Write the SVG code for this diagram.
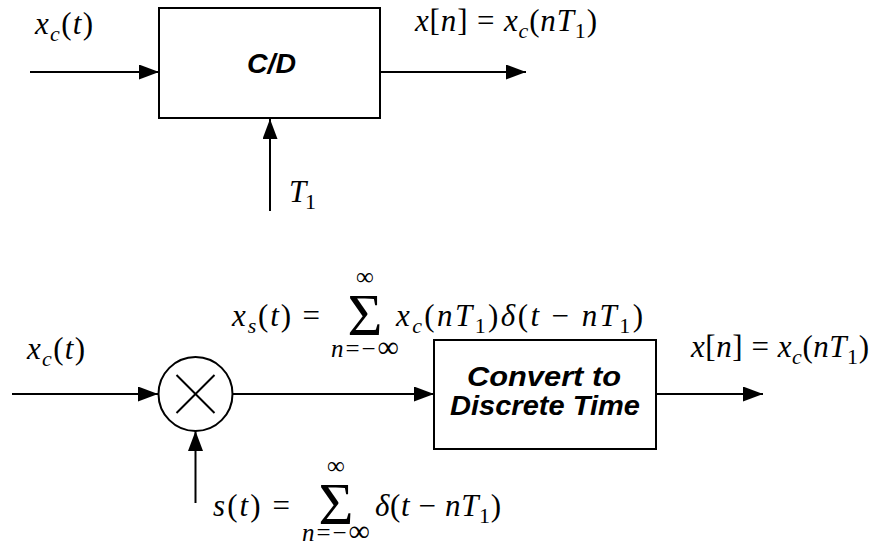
<svg xmlns="http://www.w3.org/2000/svg" width="876" height="546" viewBox="0 0 876 546">
<style>
.bg{fill:#fff}
.box{fill:#fff;stroke:#000;stroke-width:2}
.ln{fill:none;stroke:#000;stroke-width:2}
.conn{fill:none;stroke:#000;stroke-width:2;marker-end:url(#ah)}
.bt{font-family:"Liberation Sans",Arial,sans-serif;font-weight:bold;font-style:italic;font-size:27px;fill:#000}
.m{font-family:"Liberation Serif","Times New Roman",serif;font-size:31px;font-style:italic;fill:#000}
.u{font-style:normal}
.sb{font-size:22px}
.sig{font-family:"Liberation Serif","Times New Roman",serif;font-size:60px;fill:#000}
.lim{font-family:"Liberation Serif","Times New Roman",serif;font-size:25px;fill:#000}
</style>
<defs>
<marker id="ah" markerUnits="userSpaceOnUse" markerWidth="20" markerHeight="15" refX="20" refY="7.5" orient="auto">
<path d="M0,0 L20,7.5 L0,15 z" fill="#000"/>
</marker>
</defs>
<rect class="bg" x="0" y="0" width="876" height="546"/>

<g id="connectors">
<line class="conn" x1="30" y1="72" x2="159" y2="72"/>
<line class="conn" x1="380" y1="72" x2="526" y2="72"/>
<line class="conn" x1="270" y1="211" x2="270" y2="119"/>
<line class="conn" x1="12" y1="394" x2="158" y2="394"/>
<line class="conn" x1="233" y1="394" x2="434" y2="394"/>
<line class="conn" x1="195.5" y1="503" x2="195.5" y2="431"/>
<line class="conn" x1="656" y1="394" x2="763" y2="394"/>
</g>

<g id="cd">
<rect class="box" x="159" y="8" width="221" height="110"/>
<text class="bt" x="247" y="73" font-size="25" textLength="49" lengthAdjust="spacingAndGlyphs">C/D</text>
</g>

<g id="mult">
<circle class="box" cx="195.5" cy="394" r="37"/>
<line class="ln" x1="176.5" y1="375" x2="214.5" y2="413"/>
<line class="ln" x1="214.5" y1="375" x2="176.5" y2="413"/>
</g>

<g id="convert">
<rect class="box" x="434" y="340" width="222" height="109"/>
<text class="bt" x="467" y="386" textLength="154" lengthAdjust="spacingAndGlyphs">Convert to</text>
<text class="bt" x="450" y="415" textLength="190" lengthAdjust="spacingAndGlyphs">Discrete Time</text>
</g>

<g id="labels">
<text class="m" x="35" y="34" textLength="58" lengthAdjust="spacing">x<tspan class="sb" dy="7">c</tspan><tspan class="u" dy="-7">(</tspan>t<tspan class="u">)</tspan></text>
<text class="m" x="415" y="31" textLength="182" lengthAdjust="spacing">x<tspan class="u">[</tspan>n<tspan class="u">] = </tspan>x<tspan class="sb" dy="7">c</tspan><tspan class="u" dy="-7">(</tspan>nT<tspan class="sb u" dy="7">1</tspan><tspan class="u" dy="-7">)</tspan></text>
<text class="m" x="289" y="202" textLength="27" lengthAdjust="spacing">T<tspan class="sb u" dy="7">1</tspan></text>

<text class="m" x="27" y="359" textLength="58" lengthAdjust="spacing">x<tspan class="sb" dy="7">c</tspan><tspan class="u" dy="-7">(</tspan>t<tspan class="u">)</tspan></text>

<text class="m" x="232" y="326" textLength="88" lengthAdjust="spacing">x<tspan class="sb" dy="7">s</tspan><tspan class="u" dy="-7">(</tspan>t<tspan class="u">) =</tspan></text>
<text class="sig" x="365" y="335" text-anchor="middle">Σ</text>
<text class="lim" x="365" y="285" text-anchor="middle" font-size="28">∞</text>
<text class="lim" x="331" y="357" textLength="68" lengthAdjust="spacing"><tspan font-style="italic">n</tspan>=−<tspan font-size="30">∞</tspan></text>
<text class="m" x="396" y="326" textLength="247" lengthAdjust="spacing">x<tspan class="sb" dy="7">c</tspan><tspan class="u" dy="-7">(</tspan>nT<tspan class="sb u" dy="7">1</tspan><tspan class="u" dy="-7">)</tspan>δ<tspan class="u">(</tspan>t <tspan class="u">−</tspan> nT<tspan class="sb u" dy="7">1</tspan><tspan class="u" dy="-7">)</tspan></text>

<text class="m" x="213" y="516" textLength="77" lengthAdjust="spacing">s<tspan class="u">(</tspan>t<tspan class="u">) =</tspan></text>
<text class="sig" x="336" y="524" text-anchor="middle">Σ</text>
<text class="lim" x="336" y="474" text-anchor="middle" font-size="28">∞</text>
<text class="lim" x="302" y="541" textLength="68" lengthAdjust="spacing"><tspan font-style="italic">n</tspan>=−<tspan font-size="30">∞</tspan></text>
<text class="m" x="375" y="516" textLength="126" lengthAdjust="spacing">δ<tspan class="u">(</tspan>t <tspan class="u">−</tspan> nT<tspan class="sb u" dy="7">1</tspan><tspan class="u" dy="-7">)</tspan></text>

<text class="m" x="691" y="357" textLength="178" lengthAdjust="spacing">x<tspan class="u">[</tspan>n<tspan class="u">] = </tspan>x<tspan class="sb" dy="7">c</tspan><tspan class="u" dy="-7">(</tspan>nT<tspan class="sb u" dy="7">1</tspan><tspan class="u" dy="-7">)</tspan></text>
</g>
</svg>
